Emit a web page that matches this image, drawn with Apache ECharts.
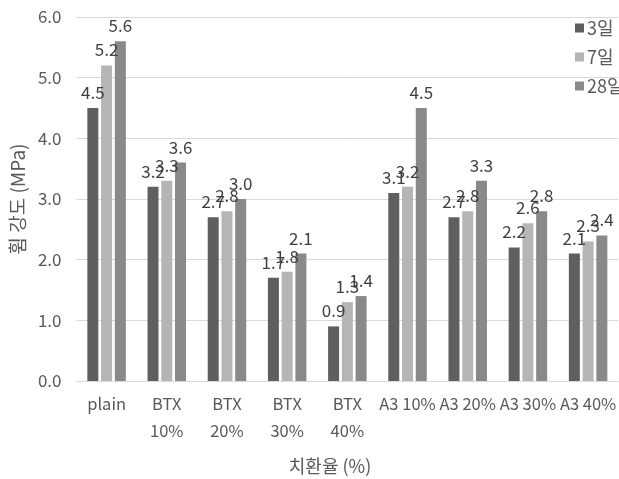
<!DOCTYPE html>
<html>
<head>
<meta charset="utf-8">
<script src="https://cdn.jsdelivr.net/npm/echarts@6/dist/echarts.min.js"></script>
<style>
  html, body { margin: 0; padding: 0; background: #fff; }
  #chart { width: 619px; height: 479px; }
</style>
</head>
<body>
<div id="chart"></div>
<script>
// Flexural strength by replacement ratio and curing age
const categories = ['plain', 'BTX\n10%', 'BTX\n20%', 'BTX\n30%', 'BTX\n40%', 'A3 10%', 'A3 20%', 'A3 30%', 'A3 40%'];
const seriesNames = ['3일', '7일', '28일'];
const day3 = [4.5, 3.2, 2.7, 1.7, 0.9, 3.1, 2.7, 2.2, 2.1];
const day7 = [5.2, 3.3, 2.8, 1.8, 1.3, 3.2, 2.8, 2.6, 2.3];
const day28 = [5.6, 3.6, 3.0, 2.1, 1.4, 4.5, 3.3, 2.8, 2.4];
const yTicks = [0, 1, 2, 3, 4, 5, 6];

const FONT = '"Noto Sans CJK KR", "Noto Sans", sans-serif';
const TEXT = '#595959';
const colors = ['#5f5f5f', '#b5b5b5', '#898989'];

const chart = echarts.init(document.getElementById('chart'));

function barSeries(name, data, color) {
  return {
    name: name,
    type: 'bar',
    data: data,
    barWidth: 11,
    barGap: '25%',
    itemStyle: { color: color },
    label: {
      show: true,
      position: 'top',
      distance: 7,
      color: '#404040',
      fontFamily: FONT,
      fontSize: 17,
      formatter: p => p.value.toFixed(1)
    }
  };
}

chart.setOption({
  animation: false,
  backgroundColor: '#ffffff',
  color: colors,
  textStyle: { fontFamily: FONT },
  grid: { left: 72, right: 0, top: 17, bottom: 98, containLabel: false },
  title: [
    {
      text: '치환율 (%)',
      left: 325,
      top: 452,
      textAlign: 'center',
      textStyle: { fontFamily: FONT, fontSize: 18, fontWeight: 'normal', color: TEXT }
    }
  ],
  legend: {
    orient: 'vertical',
    left: 570,
    top: 14,
    itemWidth: 9,
    itemHeight: 9,
    itemGap: 11,
    icon: 'rect',
    data: seriesNames,
    textStyle: { fontFamily: FONT, fontSize: 18, color: TEXT, padding: [0, 0, 0, -2] }
  },
  xAxis: {
    type: 'category',
    data: categories,
    axisLine: { show: true, lineStyle: { color: '#d9d9d9', width: 1 } },
    axisTick: { show: false },
    axisLabel: {
      interval: 0,
      margin: 9,
      color: TEXT,
      fontFamily: FONT,
      fontSize: 16.5,
      lineHeight: 27
    }
  },
  yAxis: {
    type: 'value',
    min: yTicks[0],
    max: yTicks[yTicks.length - 1],
    interval: 1,
    name: '휨 강도 (MPa)',
    nameLocation: 'middle',
    nameGap: 44,
    nameRotate: 90,
    nameTextStyle: { fontFamily: FONT, fontSize: 19, color: TEXT },
    axisLine: { show: false },
    axisTick: { show: false },
    splitLine: { lineStyle: { color: '#d9d9d9', width: 1 } },
    axisLabel: {
      margin: 15,
      color: TEXT,
      fontFamily: FONT,
      fontSize: 17,
      formatter: v => v.toFixed(1)
    }
  },
  series: [
    barSeries(seriesNames[0], day3, colors[0]),
    barSeries(seriesNames[1], day7, colors[1]),
    barSeries(seriesNames[2], day28, colors[2])
  ]
});
</script>
</body>
</html>
